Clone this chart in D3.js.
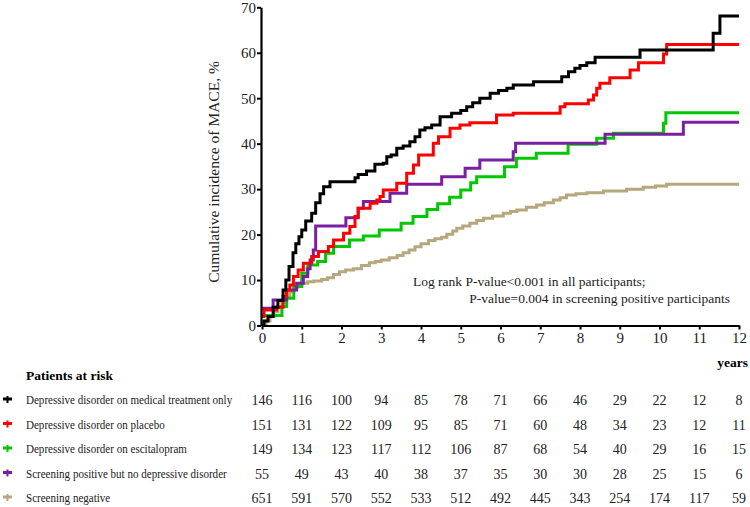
<!DOCTYPE html>
<html>
<head>
<meta charset="utf-8">
<script src="https://cdn.jsdelivr.net/npm/d3@7"></script>
<style>
  body { margin: 0; background: #fff; }
  svg { display: block; font-family: "Liberation Serif", "Times New Roman", serif; }
</style>
</head>
<body>
<svg></svg>
<script>
    // step times (years) and cumulative incidence (%)
    medT = [0, 0.05, 0.15, 0.28, 0.4, 0.53, 0.6, 0.68, 0.78, 0.85, 0.93, 1.0, 1.1, 1.25, 1.35, 1.46, 1.55, 1.71, 2.34, 2.42, 2.63, 2.84, 3.05, 3.14, 3.25, 3.39, 3.55, 3.72, 3.85, 3.97, 4.1, 4.27, 4.48, 4.77, 5.0, 5.15, 5.3, 5.48, 5.74, 5.95, 6.16, 6.32, 6.83, 7.54, 7.71, 7.87, 8.0, 8.17, 8.38, 9.51, 11.35, 11.52, 12];
    medV = [0, 1, 2, 4, 5.5, 7.8, 10, 13, 16, 18, 19.5, 21, 23, 24.7, 27, 29, 30.5, 31.6, 32.5, 33.2, 34, 35.5, 35.7, 37.1, 37.5, 39, 39.5, 40.4, 41.5, 43, 43.5, 44.1, 45.9, 46.7, 47.3, 48.1, 49, 50, 51.1, 51.7, 52.2, 52.9, 53.6, 54.7, 55.8, 56.6, 57.2, 57.8, 59, 60.6, 64.3, 68.1, 68.1];

    plaT = [0, 0.05, 0.37, 0.53, 0.62, 0.7, 0.79, 0.91, 1.04, 1.25, 1.42, 1.67, 1.8, 2.05, 2.21, 2.34, 2.42, 2.72, 2.89, 2.97, 3.05, 3.39, 3.64, 3.81, 3.94, 4.31, 4.44, 4.73, 4.98, 5.23, 5.9, 6.32, 7.5, 7.62, 8.21, 8.34, 8.42, 8.5, 8.75, 9.26, 9.47, 10.1, 10.18, 12];
    plaV = [2, 3.4, 4, 6.4, 7.8, 8.9, 10.8, 12.2, 13.7, 15.2, 16.3, 17.4, 18.8, 20.3, 21.8, 24, 25.8, 26.9, 27.6, 28.4, 29.8, 31.3, 33.5, 35.3, 37.5, 40.1, 41.5, 43.4, 44.1, 44.6, 46.3, 46.7, 48.1, 48.8, 49.6, 50.7, 52.2, 53.3, 54.5, 56.2, 57.8, 59.7, 61.8, 61.8];

    escT = [0, 0.5, 0.62, 0.8, 1.0, 1.15, 1.4, 1.6, 1.8, 2.2, 2.55, 2.95, 3.5, 3.8, 4.15, 4.42, 4.72, 5.0, 5.25, 5.4, 6.1, 6.4, 6.9, 7.7, 8.42, 8.84, 10.1, 10.16, 12];
    escV = [2.2, 4.2, 6, 8.6, 11.5, 13.3, 14.1, 15.9, 17.4, 18.8, 19.7, 21, 22.5, 24, 25.5, 26.8, 28.2, 29.8, 31.4, 32.7, 34.9, 36.8, 37.9, 39.9, 41.2, 42.3, 44.5, 46.8, 46.8];

    posT = [0, 0.28, 0.62, 0.87, 1.04, 1.15, 1.21, 1.29, 1.35, 2.11, 2.42, 2.55, 3.22, 3.64, 4.52, 5.11, 5.48, 6.32, 6.38, 8.63, 10.6, 12];
    posV = [3.8, 5.6, 7.8, 9.3, 10.8, 12.5, 14.4, 16.6, 21.9, 23.7, 25.8, 27.3, 29.1, 31.1, 32.7, 34.6, 36.4, 38.2, 40.1, 42.1, 44.7, 44.7];

    negT = [0, 0.1, 0.2, 0.3, 0.4, 0.5, 0.6, 0.7, 0.8, 0.9, 1.0, 1.15, 1.3, 1.5, 1.65, 1.8, 1.95, 2.1, 2.3, 2.5, 2.7, 2.85, 3.0, 3.2, 3.4, 3.55, 3.7, 3.85, 4.0, 4.19, 4.35, 4.52, 4.65, 4.8, 4.9, 5.05, 5.23, 5.4, 5.57, 5.8, 6.07, 6.25, 6.41, 6.65, 6.91, 7.1, 7.33, 7.5, 7.66, 7.9, 8.17, 8.59, 9.17, 9.59, 9.9, 10.18, 12];
    negV = [0, 1, 2, 3, 4, 5, 6.2, 7.4, 8.4, 8.9, 9.3, 9.6, 9.8, 10.1, 10.5, 11.2, 11.8, 12.2, 12.5, 13.2, 13.8, 14.1, 14.4, 14.9, 15.4, 16.0, 16.6, 17.3, 18.0, 18.7, 19.1, 19.4, 20.1, 20.8, 21.4, 21.9, 22.5, 23.1, 23.6, 24.1, 24.7, 25.1, 25.4, 26, 26.5, 27, 27.6, 28.1, 28.7, 29, 29.2, 29.6, 30.0, 30.4, 30.7, 31.1, 31.1];

    groups = ["Depressive disorder on medical treatment only",
              "Depressive disorder on placebo",
              "Depressive disorder on escitalopram",
              "Screening positive but no depressive disorder",
              "Screening negative"];
    colors = ["#000000", "#ff0000", "#00c800", "#7a1fa0", "#b4a87c"];

    years = [0, 1, 2, 3, 4, 5, 6, 7, 8, 9, 10, 11, 12];
    yticks = [0, 10, 20, 30, 40, 50, 60, 70];

    atRisk = [
        [146, 116, 100, 94, 85, 78, 71, 66, 46, 29, 22, 12, 8],
        [151, 131, 122, 109, 95, 85, 71, 60, 48, 34, 23, 12, 11],
        [149, 134, 123, 117, 112, 106, 87, 68, 54, 40, 29, 16, 15],
        [55, 49, 43, 40, 38, 37, 35, 30, 30, 28, 25, 15, 6],
        [651, 591, 570, 552, 533, 512, 492, 445, 343, 254, 174, 117, 59]
    ];
</script>

<script>
    svg = d3.select("svg").attr("width", 750).attr("height", 507);

    xs = d3.scaleLinear().domain([0, 12]).range([262, 739]);
    ys = d3.scaleLinear().domain([0, 70]).range([325.5, 7.3]);

    series = [[medT, medV], [plaT, plaV], [escT, escV], [posT, posV], [negT, negV]];

    line = d3.line()
        .x(function(d){return xs(d[0]);})
        .y(function(d){return ys(d[1]);})
        .curve(d3.curveStepAfter);

    //draw the curves (screening negative at the back, medical treatment on top)
    order = [4, 2, 3, 1, 0];
    svg.append("g")
        .selectAll("path").data(order).enter().append("path")
        .attr("fill", "none")
        .attr("stroke", function(i){return colors[i];})
        .attr("stroke-width", 3)
        .attr("d", function(i){
            var s = series[i];
            return line(s[0].map(function(t, k){return [t, s[1][k]];}));
        });

    //draw the y axis
    gy = svg.append("g")
        .attr("transform", "translate(261,0)")
        .call(d3.axisLeft(ys).tickValues(yticks).tickSize(4).tickSizeOuter(0).tickPadding(1));
    gy.select(".domain").attr("stroke-width", 2.2);
    gy.selectAll(".tick line").attr("stroke-width", 2);
    gy.selectAll("text").attr("font-size", 15).attr("font-family", "Liberation Serif").attr("fill", "#222");

    //draw the x axis
    gx = svg.append("g")
        .attr("transform", "translate(0,325.5)")
        .call(d3.axisBottom(xs).tickValues(years).tickSize(4).tickSizeOuter(0).tickPadding(3));
    gx.select(".domain").attr("stroke-width", 2.2);
    gx.selectAll(".tick line").attr("stroke-width", 2);
    gx.selectAll("text").attr("font-size", 15).attr("font-family", "Liberation Serif").attr("fill", "#222");

    //axis titles
    svg.append("text")
        .attr("transform", "translate(219,172) rotate(-90)")
        .attr("text-anchor", "middle")
        .attr("font-size", 15.5)
        .attr("fill", "#222")
        .text("Cumulative incidence of MACE, %");

    svg.append("text")
        .attr("x", 748).attr("y", 367)
        .attr("text-anchor", "end")
        .attr("font-size", 13.5)
        .attr("font-weight", "bold")
        .text("years");

    //log rank note
    svg.append("text")
        .attr("x", 413).attr("y", 286)
        .attr("font-size", 13.5)
        .attr("fill", "#222")
        .text("Log rank P-value<0.001 in all participants;");
    svg.append("text")
        .attr("x", 730).attr("y", 303)
        .attr("text-anchor", "end")
        .attr("font-size", 13.5)
        .attr("fill", "#222")
        .text("P-value=0.004 in screening positive participants");

    //patients at risk table
    svg.append("text")
        .attr("x", 26).attr("y", 380)
        .attr("font-size", 13.5)
        .attr("font-weight", "bold")
        .text("Patients at risk");

    rowY = d3.scalePoint().domain(d3.range(groups.length)).range([400, 498]);

    rows = svg.append("g")
        .selectAll("g").data(groups).enter().append("g")
        .attr("transform", function(d, i){return "translate(0," + rowY(i) + ")";});

    rows.append("line")
        .attr("x1", 3).attr("x2", 12).attr("y1", -1).attr("y2", -1)
        .attr("stroke", function(d, i){return colors[i];})
        .attr("stroke-width", 3);
    rows.append("line")
        .attr("x1", 7.5).attr("x2", 7.5).attr("y1", -4).attr("y2", 3)
        .attr("stroke", function(d, i){return colors[i];})
        .attr("stroke-width", 2);

    // the labels in the figure are set narrower than the rest of the text
    rows.append("text")
        .attr("transform", "translate(26,4) scale(0.85,1)")
        .attr("font-size", 13)
        .attr("fill", "#222")
        .text(function(d){return d;});

    rows.selectAll(".n").data(function(d, i){return atRisk[i];}).enter().append("text")
        .attr("class", "n")
        .attr("x", function(d, j){return xs(years[j]);})
        .attr("y", 5)
        .attr("text-anchor", "middle")
        .attr("font-size", 14)
        .attr("fill", "#222")
        .text(function(d){return d;});
</script>
</body>
</html>
